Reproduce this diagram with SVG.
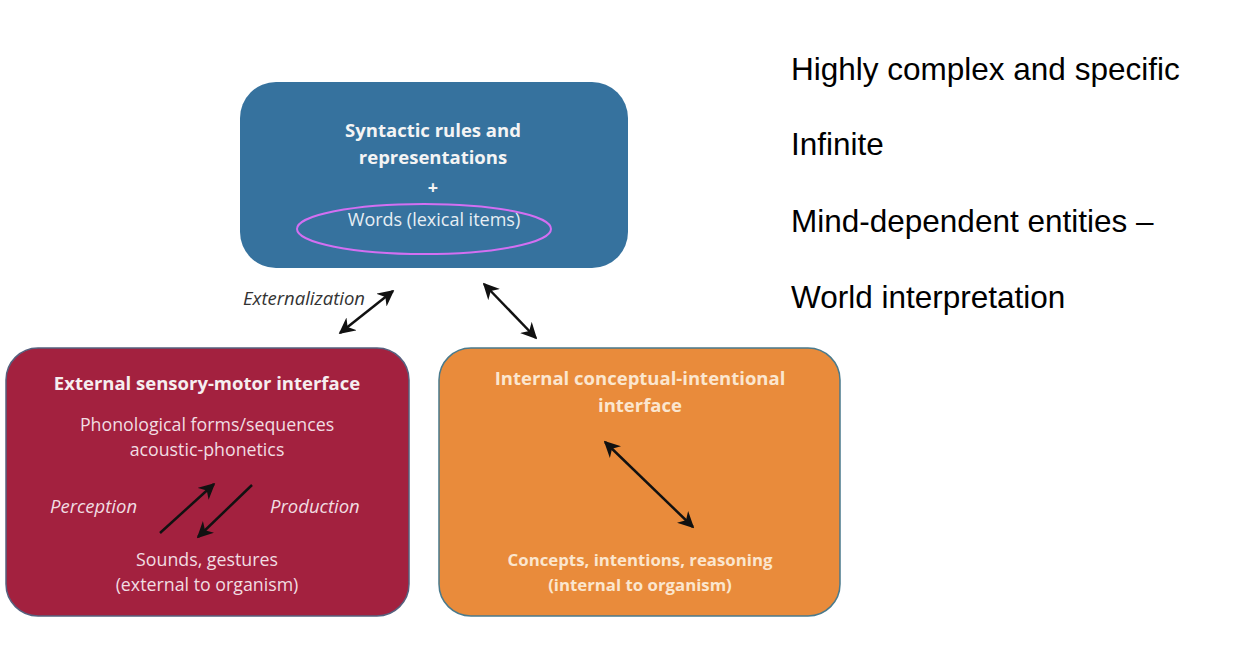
<svg xmlns="http://www.w3.org/2000/svg" width="1258" height="656" viewBox="0 0 1258 656">
<style>
.box-title{font-family:"Open Sans",Lato,sans-serif;font-weight:bold;font-size:18.5px;text-anchor:middle}
.box-text{font-family:"Open Sans",Lato,sans-serif;font-size:17.8px;text-anchor:middle}
.ital{font-family:"Open Sans",Lato,sans-serif;font-style:italic;font-size:18.5px}
.side{font-family:"Liberation Sans",Arial,sans-serif;font-size:31.5px;fill:#000}
.arr{stroke:#111;stroke-width:2.5;fill:none;marker-start:url(#ah);marker-end:url(#ah)}
.arr1{stroke:#111;stroke-width:2.5;fill:none;marker-end:url(#ah)}
</style>
<defs>
<marker id="ah" viewBox="0 0 10 10" refX="9" refY="5" markerWidth="6.5" markerHeight="6.5" orient="auto-start-reverse" markerUnits="strokeWidth">
<path d="M0,0 L10,5 L0,10 L3,5 Z" fill="#111"/>
</marker>
</defs>
<rect width="1258" height="656" fill="#fff"/>
<g id="syntax">
<rect x="240" y="82" width="388" height="186" rx="36" fill="#36729e"/>
<text class="box-title" x="433" y="137" fill="#f4f4f4">Syntactic rules and</text>
<text class="box-title" x="433" y="164" fill="#f4f4f4">representations</text>
<text class="box-title" x="433" y="194" fill="#f4f4f4" style="font-size:18px">+</text>
<text class="box-text" x="434" y="226" fill="#e6eef4" style="font-size:18px">Words (lexical items)</text>
<ellipse cx="424" cy="229" rx="127" ry="25" fill="none" stroke="#d36ff2" stroke-width="2"/>
</g>
<g id="sensory-motor">
<rect x="6" y="348" width="403" height="268" rx="32" fill="#a3213f" stroke="#56607e" stroke-width="1.5"/>
<text class="box-title" x="207" y="390" fill="#f6eef0">External sensory-motor interface</text>
<text class="box-text" x="207" y="431" fill="#f1dde2">Phonological forms/sequences</text>
<text class="box-text" x="207" y="456" fill="#f1dde2">acoustic-phonetics</text>
<text class="ital" x="50" y="513" fill="#f1dde2">Perception</text>
<text class="ital" x="270" y="513" fill="#f1dde2">Production</text>
<text class="box-text" x="207" y="566" fill="#f1dde2">Sounds, gestures</text>
<text class="box-text" x="207" y="591" fill="#f1dde2">(external to organism)</text>
</g>
<g id="conceptual-intentional">
<rect x="439" y="348" width="401" height="268" rx="32" fill="#e98b3b" stroke="#4a7a8c" stroke-width="1.5"/>
<text class="box-title" x="640" y="385" fill="#fbe6cf">Internal conceptual-intentional</text>
<text class="box-title" x="640" y="412" fill="#fbe6cf">interface</text>
<text class="box-title" x="640" y="566" fill="#fbe6cf" style="font-size:16.8px">Concepts, intentions, reasoning</text>
<text class="box-title" x="640" y="591" fill="#fbe6cf" style="font-size:16.8px">(internal to organism)</text>
</g>
<g id="connectors">
<line class="arr" x1="340" y1="333" x2="393" y2="291"/>
<line class="arr" x1="484" y1="284" x2="536" y2="338"/>
<line class="arr1" x1="160" y1="533" x2="214" y2="484"/>
<line class="arr1" x1="252" y1="485" x2="198" y2="537"/>
<line class="arr" x1="605" y1="442" x2="693" y2="527"/>
</g>
<text class="ital" x="243" y="305" fill="#333">Externalization</text>
<g id="notes">
<text class="side" x="791" y="80">Highly complex and specific</text>
<text class="side" x="791" y="155">Infinite</text>
<text class="side" x="791" y="232">Mind-dependent entities –</text>
<text class="side" x="791" y="308">World interpretation</text>
</g>
</svg>
